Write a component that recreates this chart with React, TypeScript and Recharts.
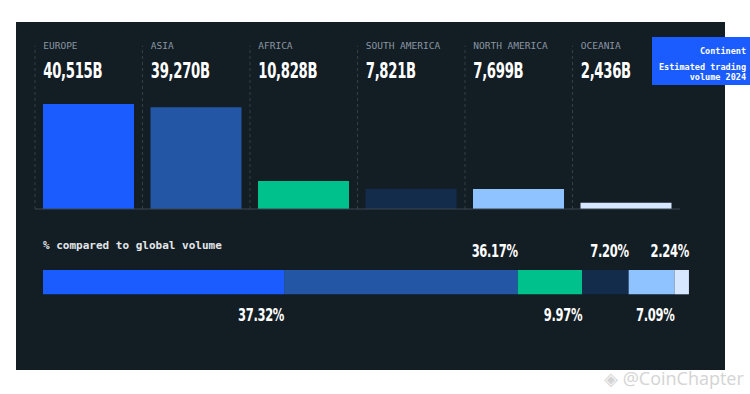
import React from 'react'
import { BarChart, Bar, XAxis, YAxis, Cell, LabelList, ReferenceLine } from 'recharts'

const continents = ['EUROPE', 'ASIA', 'AFRICA', 'SOUTH AMERICA', 'NORTH AMERICA', 'OCEANIA']
const volumes = [40515, 39270, 10828, 7821, 7699, 2436]
const shares = [37.32, 36.17, 9.97, 7.2, 7.09, 2.24]
const colors = ['#1a5cff', '#2456a6', '#00c18c', '#132c4b', '#8fc3ff', '#d7e7ff']

const MONO = "'DejaVu Sans Mono', monospace"
const NARROW = "'DejaVu Sans', sans-serif"

function fmtB(v: number) { return v.toLocaleString('en-US') + 'B' }

const volData = continents.map((c, i) => ({ name: c, volume: volumes[i] }))
const shareRow: any = { name: 'share' }
continents.forEach((c, i) => { shareRow[c] = shares[i] })

// no condensed font installed, so squeeze DejaVu Sans Bold horizontally
function TopTick(props: any) {
  const { x, y, payload } = props
  const i = continents.indexOf(payload.value)
  return (
    <g>
      <text x={x - 45.5} y={y - 53} fill="#8a96a3" fontSize={9.5} fontFamily={MONO}>{payload.value}</text>
      <text transform={`translate(${x - 45.5},${y - 24}) scale(0.63,1)`} fill="#ffffff" fontSize={21}
        fontWeight={700} fontFamily={NARROW} letterSpacing={-0.5}>{fmtB(volumes[i])}</text>
    </g>
  )
}

function shareLabel(i: number) {
  return (p: any) => {
    const { x, y, width, height, value } = p
    const below = i % 2 === 0
    const tx = x + width
    const ty = below ? y + height + 27 : y - 13
    return (
      <text transform={`translate(${tx},${ty}) scale(0.64,1)`} textAnchor="end" fill="#ffffff"
        fontSize={18} fontWeight={700} fontFamily={NARROW} letterSpacing={-0.5}>
        {Number(value).toFixed(2)}%
      </text>
    )
  }
}

export default function App() {
  return (
    <div style={{ position: 'absolute', left: 0, top: 0, width: 750, height: 394, background: '#fff', overflow: 'hidden' }}>
      <div style={{ position: 'absolute', left: 16, top: 22, width: 709, height: 348, background: '#131d24' }} />

      <div style={{ position: 'absolute', left: 0, top: 0 }}>
        <BarChart width={750} height={215} data={volData} margin={{ top: 34, right: 70, left: 35, bottom: 6 }}>
          <XAxis dataKey="name" orientation="top" height={70} axisLine={false} tickLine={false} tickSize={0} interval={0} tick={<TopTick />} />
          <YAxis hide domain={[0, 40515]} />
          {continents.map(c => (
            <ReferenceLine key={c} ifOverflow="visible" position="start" stroke="#353f49" strokeDasharray="3 3"
              segment={[{ x: c, y: 0 }, { x: c, y: 63000 }]} />
          ))}
          <ReferenceLine y={0} stroke="#3b4650" />
          <Bar dataKey="volume" barSize={91} isAnimationActive={false}>
            {volData.map((d, i) => <Cell key={d.name} fill={colors[i]} />)}
          </Bar>
        </BarChart>
      </div>

      <div style={{ position: 'absolute', left: 43, top: 239, fontFamily: MONO, fontSize: 11, fontWeight: 700, color: '#e3e6e9' }}>
        % compared to global volume
      </div>

      <div style={{ position: 'absolute', left: 0, top: 230 }}>
        <BarChart width={750} height={100} layout="vertical" data={[shareRow]} margin={{ top: 39, right: 61, left: 43, bottom: 34 }}>
          <XAxis type="number" hide domain={[0, 100]} />
          <YAxis type="category" dataKey="name" hide />
          {continents.map((c, i) => (
            <Bar key={c} dataKey={c} stackId="s" fill={colors[i]} barSize={27} isAnimationActive={false}>
              <LabelList dataKey={c} content={shareLabel(i)} />
            </Bar>
          ))}
        </BarChart>
      </div>

      <div style={{ position: 'absolute', left: 652, top: 37, width: 98, height: 48, background: '#1a5cff', color: '#fff',
        fontFamily: MONO, fontSize: 8.5, fontWeight: 700, textAlign: 'right', boxSizing: 'border-box', padding: '9px 4px 0 0', lineHeight: '10px' }}>
        <div>Continent</div>
        <div style={{ marginTop: 6 }}>Estimated trading</div>
        <div>volume 2024</div>
      </div>

      <div style={{ position: 'absolute', left: 604, top: 366, fontFamily: "'Open Sans', sans-serif", fontSize: 18, color: '#d4d4d4' }}>
        ◈ @CoinChapter
      </div>
    </div>
  )
}
